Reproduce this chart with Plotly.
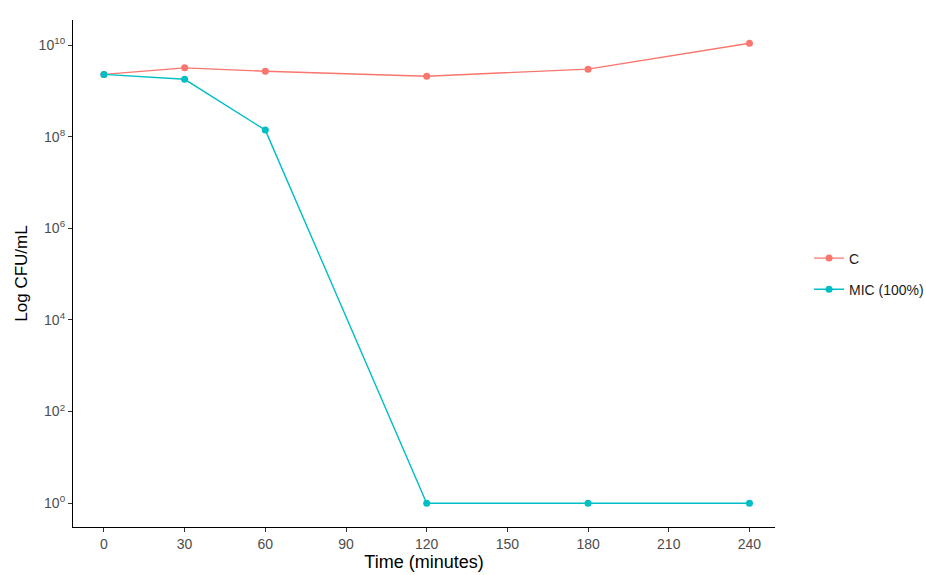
import plotly.graph_objects as go

time_min = [0, 30, 60, 120, 180, 240]
c_values = [2.3e9, 3.2e9, 2.7e9, 2.1e9, 3.0e9, 1.1e10]
mic_values = [2.3e9, 1.8e9, 1.4e8, 1, 1, 1]
series_names = ["C", "MIC (100%)"]
x_ticks = [0, 30, 60, 90, 120, 150, 180, 210, 240]
y_tickvals = [1, 1e2, 1e4, 1e6, 1e8, 1e10]
y_ticktext = ["10<sup>0</sup>", "10<sup>2</sup>", "10<sup>4</sup>", "10<sup>6</sup>", "10<sup>8</sup>", "10<sup>10</sup>"]

colors = ["#F8766D", "#00BFC4"]

fig = go.Figure()
for name, vals, col in zip(series_names, [c_values, mic_values], colors):
    fig.add_trace(go.Scatter(
        x=time_min, y=vals, mode="lines+markers", name=name, legendgroup=name,
        line=dict(color=col, width=1.4),
        marker=dict(color=col, size=7),
    ))

fig.update_layout(
    width=926, height=575,
    margin=dict(l=73, r=151, t=20, b=48),
    paper_bgcolor="white", plot_bgcolor="white",
    font=dict(family="Liberation Sans, Arial, sans-serif", color="#4d4d4d", size=14),
    legend=dict(xref="container", yref="container", x=0.8737, y=0.5235,
                xanchor="left", yanchor="middle",
                font=dict(size=14, color="#1a1a1a"), bgcolor="rgba(0,0,0,0)",
                tracegroupgap=10),
    showlegend=True,
)
fig.update_xaxes(
    range=[-11.5, 249.5], tickvals=x_ticks, ticks="outside", ticklen=4,
    tickcolor="#333333", showline=True, linecolor="black", linewidth=1.2,
    showgrid=False, zeroline=False, automargin=False,
    title=dict(text="Time (minutes)", font=dict(size=18, color="black"), standoff=2),
    tickfont=dict(size=14, color="#4d4d4d"),
)
fig.update_yaxes(
    type="log", range=[-0.52, 10.55], tickvals=y_tickvals, ticktext=y_ticktext,
    ticks="outside", ticklen=4, tickcolor="#333333", showline=True,
    linecolor="black", linewidth=1.2, showgrid=False, zeroline=False, automargin=False,
    title=dict(text="Log CFU/mL", font=dict(size=17, color="black"), standoff=6),
    tickfont=dict(size=14, color="#4d4d4d"),
)

fig.write_html(
    "out.html",
    config={"displayModeBar": False},
    post_script="document.body.style.margin='0';document.body.style.overflow='hidden';",
)
